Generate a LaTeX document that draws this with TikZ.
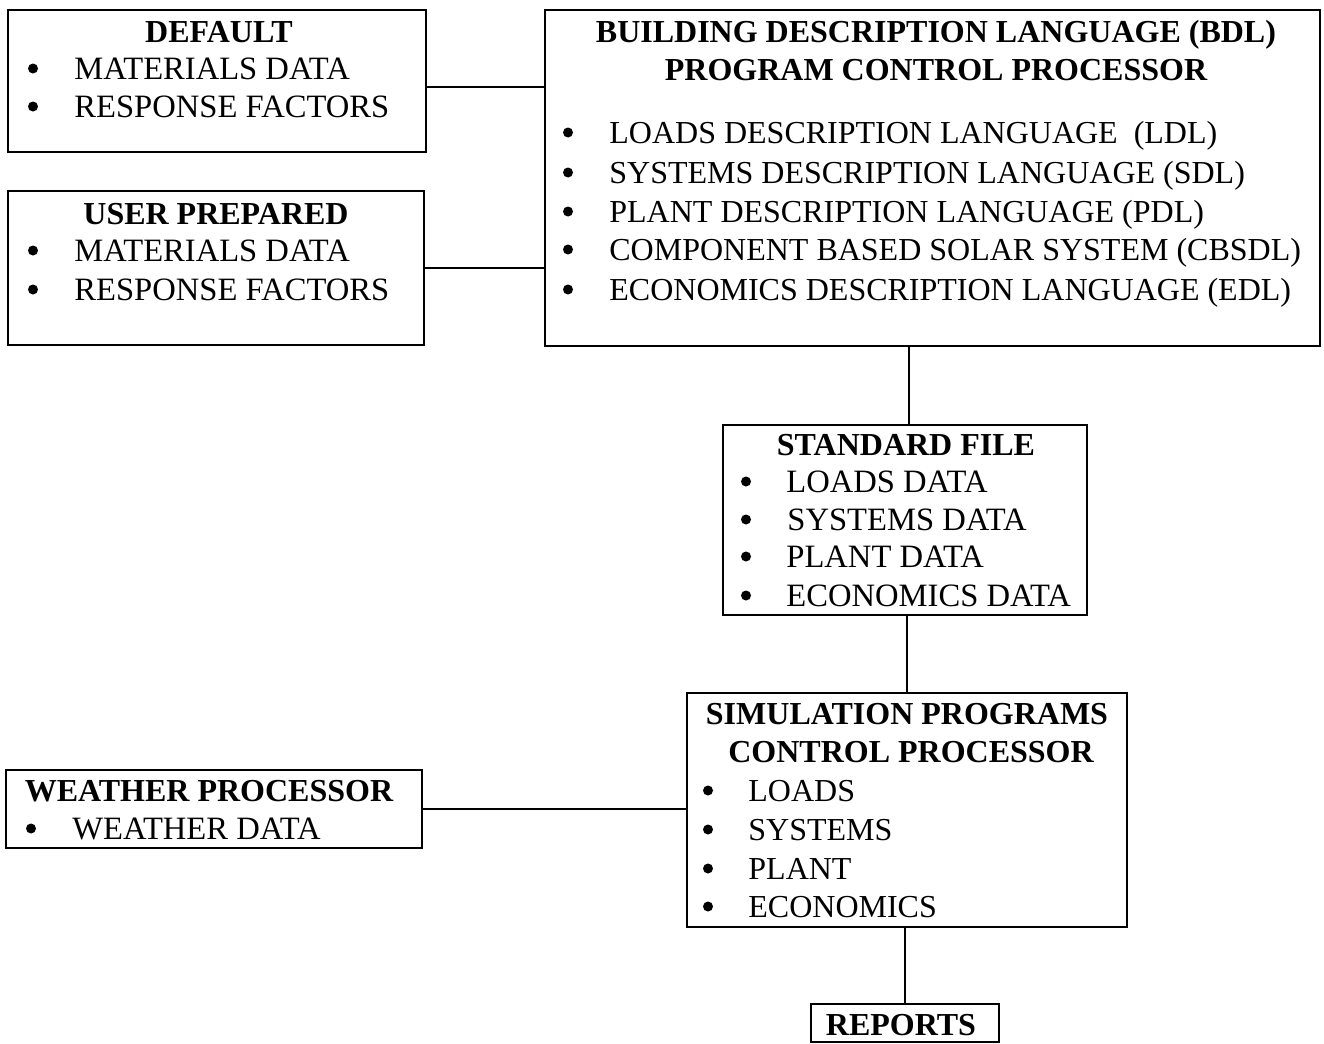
\documentclass[tikz,border=0pt]{standalone}
\usepackage{fontspec}
\setmainfont{Liberation Serif}
\usetikzlibrary{fit}
\begin{document}
\begin{tikzpicture}[x=0.5pt,y=-0.5pt,
  box/.style={draw=black, line width=0.9pt, inner sep=0pt, rectangle},
  ttl/.style={font=\fontsize{16}{19}\selectfont\bfseries, inner sep=0pt, anchor=base},
  itm/.style={font=\fontsize{16.3}{19}\selectfont, inner sep=0pt, anchor=base west},
  itmn/.style={font=\fontsize{16}{19}\selectfont, inner sep=0pt, anchor=base west},
  bul/.style={circle, fill=black, inner sep=0pt, minimum size=5pt, shift={(0,-10.5)}},
  link/.style={draw=black, line width=0.9pt}]
\useasboundingbox (0,0) rectangle (1324,1044);
\fill[white] (0,0) rectangle (1324,1044);

% boxes
\node[box, fit={(8,10) (426,152)}] (def) {};
\node[box, fit={(8,191) (424,345)}] (usr) {};
\node[box, fit={(545,10) (1320,346)}] (bdl) {};
\node[box, fit={(723,425) (1087,615)}] (std) {};
\node[box, fit={(687,693) (1127,927)}] (sim) {};
\node[box, fit={(6,770) (422,848)}] (wth) {};
\node[box, fit={(811,1004) (999,1042)}] (rep) {};

% DEFAULT
\node[ttl] (defT) at (219,42) {DEFAULT};
\node[bul] (defB1) at (33,79) {};
\node[itm] (defI1) at (74,79) {MATERIALS DATA};
\node[bul] (defB2) at (33,117) {};
\node[itm] (defI2) at (74,117) {RESPONSE FACTORS};

% USER PREPARED
\node[ttl] (usrT) at (216,224) {USER PREPARED};
\node[bul] (usrB1) at (33,261) {};
\node[itm] (usrI1) at (74,261) {MATERIALS DATA};
\node[bul] (usrB2) at (33,300) {};
\node[itm] (usrI2) at (74,300) {RESPONSE FACTORS};

% BDL
\node[ttl] (bdlT1) at (936,42) {BUILDING DESCRIPTION LANGUAGE (BDL)};
\node[ttl] (bdlT2) at (936,80) {PROGRAM CONTROL PROCESSOR};
\node[bul] (bdlB1) at (568,143) {};
\node[itmn] (bdlI1) at (609,143) {LOADS DESCRIPTION LANGUAGE~~(LDL)};
\node[bul] (bdlB2) at (568,183) {};
\node[itmn] (bdlI2) at (609,183) {SYSTEMS DESCRIPTION LANGUAGE (SDL)};
\node[bul] (bdlB3) at (568,222) {};
\node[itmn] (bdlI3) at (609,222) {PLANT DESCRIPTION LANGUAGE (PDL)};
\node[bul] (bdlB4) at (568,260) {};
\node[itmn] (bdlI4) at (609,260) {COMPONENT BASED SOLAR SYSTEM (CBSDL)};
\node[bul] (bdlB5) at (568,300) {};
\node[itmn] (bdlI5) at (609,300) {ECONOMICS DESCRIPTION LANGUAGE (EDL)};

% STANDARD FILE
\node[ttl] (stdT) at (906,455) {STANDARD FILE};
\node[bul] (stdB1) at (746,492) {};
\node[itm] (stdI1) at (786,492) {LOADS DATA};
\node[bul] (stdB2) at (746,530) {};
\node[itm] (stdI2) at (787,530) {SYSTEMS DATA};
\node[bul] (stdB3) at (746,567) {};
\node[itm] (stdI3) at (786,567) {PLANT DATA};
\node[bul] (stdB4) at (746,606) {};
\node[itm] (stdI4) at (786,606) {ECONOMICS DATA};

% SIMULATION
\node[ttl] (simT1) at (907,724) {SIMULATION PROGRAMS};
\node[ttl] (simT2) at (911,762) {CONTROL PROCESSOR};
\node[bul] (simB1) at (708,801) {};
\node[itmn] (simI1) at (748,801) {LOADS};
\node[bul] (simB2) at (708,840) {};
\node[itmn] (simI2) at (748,840) {SYSTEMS};
\node[bul] (simB3) at (708,879) {};
\node[itmn] (simI3) at (748,879) {PLANT};
\node[bul] (simB4) at (708,917) {};
\node[itmn] (simI4) at (748,917) {ECONOMICS};

% WEATHER
\node[ttl] (wthT) at (209,801) {WEATHER PROCESSOR};
\node[bul] (wthB1) at (31,839) {};
\node[itm] (wthI1) at (72,839) {WEATHER DATA};

% REPORTS
\node[ttl] (repT) at (901,1035) {REPORTS};

% connectors
\coordinate (c1) at (426,87);
\coordinate (c2) at (909,346);
\draw[link] (def.east |- c1) -- (bdl.west |- c1);
\draw[link] (usr.east) -- (usr.east -| bdl.west);
\draw[link] (bdl.south -| c2) -- (std.north -| c2);
\draw[link] (std.south -| sim.north) -- (sim.north);
\draw[link] (wth.east) -- (wth.east -| sim.west);
\draw[link] (sim.south -| rep.north) -- (rep.north);
\end{tikzpicture}
\end{document}
